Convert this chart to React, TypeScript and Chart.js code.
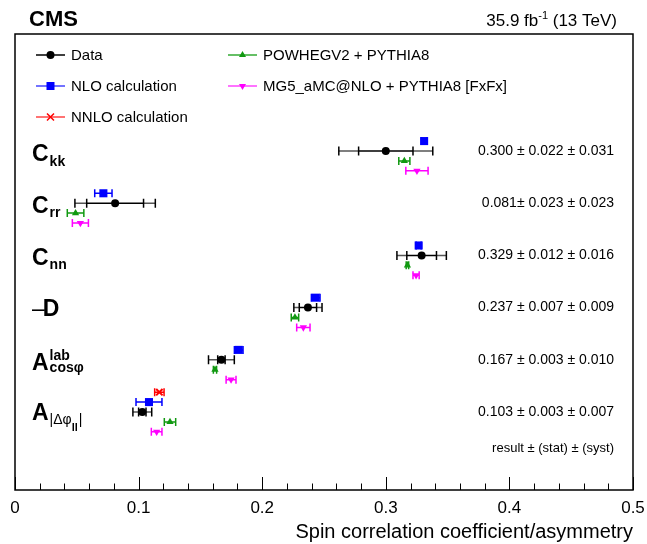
import React, { useEffect, useRef } from 'react';
import { Chart, registerables } from 'chart.js';

Chart.register(...registerables);

const FONT = '"Liberation Sans", Arial, Helvetica, sans-serif';

// ---------------- data ----------------
const rowKeys = ['Ckk', 'Crr', 'Cnn', 'minusD', 'Acos', 'Adphi'];
const dataValue = [0.300, 0.081, 0.329, 0.237, 0.167, 0.103];
const dataStat = [0.022, 0.023, 0.012, 0.007, 0.003, 0.003];
const dataSyst = [0.031, 0.023, 0.016, 0.009, 0.010, 0.007];
const nloValue = [0.331, 0.0715, 0.3266, 0.2433, 0.181, 0.1084];
const nloErr = [0.002, 0.007, 0.002, 0.0035, 0.0035, 0.0105];
const nnloValue: (number | null)[] = [null, null, null, null, null, 0.1168];
const nnloErr: (number | null)[] = [null, null, null, null, null, 0.0038];
const powhegValue = [0.315, 0.049, 0.3175, 0.2265, 0.1618, 0.1254];
const powhegErr = [0.0045, 0.0067, 0.001, 0.003, 0.0013, 0.0046];
const mg5Value = [0.3252, 0.0529, 0.3245, 0.2333, 0.1748, 0.1146];
const mg5Err = [0.009, 0.0065, 0.0025, 0.0054, 0.004, 0.0043];
const resultLabels = [
  '0.300 \u00b1 0.022 \u00b1 0.031',
  '0.081\u00b1 0.023 \u00b1 0.023',
  '0.329 \u00b1 0.012 \u00b1 0.016',
  '0.237 \u00b1 0.007 \u00b1 0.009',
  '0.167 \u00b1 0.003 \u00b1 0.010',
  '0.103 \u00b1 0.003 \u00b1 0.007',
];
const xMin = 0;
const xMax = 0.5;
const xMajorStep = 0.1;
const xMinorStep = 0.02;
const legendNames = {
  data: 'Data',
  nlo: 'NLO calculation',
  nnlo: 'NNLO calculation',
  powheg: 'POWHEGV2 + PYTHIA8',
  mg5: 'MG5_aMC@NLO + PYTHIA8 [FxFx]',
};

// ---------------- styling ----------------
const COL = {
  data: '#000000',
  nlo: '#0000ff',
  nnlo: '#ff0000',
  powheg: '#119911',
  mg5: '#ff00ff',
};
const OFF = { nnlo: -0.38, nlo: -0.19, data: 0, powheg: 0.19, mg5: 0.38 };

const theorySeries = [
  { key: 'nlo', values: nloValue, errs: nloErr, color: COL.nlo, offset: OFF.nlo },
  { key: 'nnlo', values: nnloValue, errs: nnloErr, color: COL.nnlo, offset: OFF.nnlo },
  { key: 'powheg', values: powhegValue, errs: powhegErr, color: COL.powheg, offset: OFF.powheg },
  { key: 'mg5', values: mg5Value, errs: mg5Err, color: COL.mg5, offset: OFF.mg5 },
];

function pts(values: (number | null)[], offset: number) {
  const out: { x: number; y: number }[] = [];
  values.forEach((v, i) => {
    if (v !== null && v !== undefined) out.push({ x: v, y: i + offset });
  });
  return out;
}

type Seg = { t: string; font: string; y: number; dx?: number };
function drawSegs(ctx: CanvasRenderingContext2D, x: number, segs: Seg[]) {
  let cx = x;
  for (const s of segs) {
    ctx.font = s.font;
    cx += s.dx || 0;
    ctx.fillText(s.t, cx, s.y);
    cx += ctx.measureText(s.t).width;
  }
  return cx;
}
function segsWidth(ctx: CanvasRenderingContext2D, segs: Seg[]) {
  let w = 0;
  for (const s of segs) {
    ctx.font = s.font;
    w += (s.dx || 0) + ctx.measureText(s.t).width;
  }
  return w;
}

function drawMarker(ctx: CanvasRenderingContext2D, kind: string, x: number, y: number, color: string) {
  ctx.save();
  ctx.fillStyle = color;
  ctx.strokeStyle = color;
  ctx.beginPath();
  if (kind === 'data') {
    ctx.arc(x, y, 4, 0, Math.PI * 2);
    ctx.fill();
  } else if (kind === 'nlo') {
    ctx.rect(x - 4, y - 4, 8, 8);
    ctx.fill();
  } else if (kind === 'nnlo') {
    ctx.lineWidth = 1.5;
    ctx.moveTo(x - 3.5, y - 3.5);
    ctx.lineTo(x + 3.5, y + 3.5);
    ctx.moveTo(x + 3.5, y - 3.5);
    ctx.lineTo(x - 3.5, y + 3.5);
    ctx.stroke();
  } else if (kind === 'powheg') {
    ctx.moveTo(x, y - 4);
    ctx.lineTo(x + 3.5, y + 2);
    ctx.lineTo(x - 3.5, y + 2);
    ctx.closePath();
    ctx.fill();
  } else if (kind === 'mg5') {
    ctx.moveTo(x, y + 4);
    ctx.lineTo(x + 3.5, y - 2);
    ctx.lineTo(x - 3.5, y - 2);
    ctx.closePath();
    ctx.fill();
  }
  ctx.restore();
}

const decorPlugin = {
  id: 'decor',
  beforeDatasetsDraw(chart: any) {
    const ctx: CanvasRenderingContext2D = chart.ctx;
    const xs = chart.scales.x;
    const ys = chart.scales.y;
    ctx.save();
    ctx.lineWidth = 1.5;
    // theory error bars
    for (const s of theorySeries) {
      ctx.strokeStyle = s.color;
      s.values.forEach((v, i) => {
        const e = s.errs[i];
        if (v === null || v === undefined || e === null || e === undefined) return;
        const y = ys.getPixelForValue(i + s.offset);
        const x1 = xs.getPixelForValue(v - e);
        const x2 = xs.getPixelForValue(v + e);
        ctx.beginPath();
        ctx.moveTo(x1, y);
        ctx.lineTo(x2, y);
        ctx.moveTo(x1, y - 4);
        ctx.lineTo(x1, y + 4);
        ctx.moveTo(x2, y - 4);
        ctx.lineTo(x2, y + 4);
        ctx.stroke();
      });
    }
    // data error bars (stat inner, total outer)
    dataValue.forEach((v, i) => {
      const tot = Math.sqrt(dataStat[i] * dataStat[i] + dataSyst[i] * dataSyst[i]);
      const y = ys.getPixelForValue(i + OFF.data);
      const o1 = xs.getPixelForValue(v - tot);
      const o2 = xs.getPixelForValue(v + tot);
      const s1 = xs.getPixelForValue(v - dataStat[i]);
      const s2 = xs.getPixelForValue(v + dataStat[i]);
      ctx.strokeStyle = '#555555';
      ctx.beginPath();
      ctx.moveTo(o1, y);
      ctx.lineTo(s1, y);
      ctx.moveTo(s2, y);
      ctx.lineTo(o2, y);
      ctx.stroke();
      ctx.strokeStyle = '#000000';
      ctx.beginPath();
      ctx.moveTo(s1, y);
      ctx.lineTo(s2, y);
      for (const xx of [o1, o2, s1, s2]) {
        ctx.moveTo(xx, y - 4.5);
        ctx.lineTo(xx, y + 4.5);
      }
      ctx.stroke();
    });
    ctx.restore();
  },
  afterDraw(chart: any) {
    const ctx: CanvasRenderingContext2D = chart.ctx;
    const xs = chart.scales.x;
    const ys = chart.scales.y;
    const a = chart.chartArea;
    ctx.save();

    // frame
    ctx.strokeStyle = '#000';
    ctx.lineWidth = 1.5;
    ctx.strokeRect(a.left, a.top, a.right - a.left, a.bottom - a.top);

    // x ticks (inward)
    ctx.lineWidth = 1;
    ctx.beginPath();
    const nMinor = Math.round((xMax - xMin) / xMinorStep);
    for (let k = 0; k <= nMinor; k++) {
      const v = xMin + k * xMinorStep;
      const px = Math.round(xs.getPixelForValue(v)) + 0.5;
      const isMajor = Math.abs(v / xMajorStep - Math.round(v / xMajorStep)) < 1e-6;
      const len = isMajor ? 13 : 6.5;
      ctx.moveTo(px, a.bottom);
      ctx.lineTo(px, a.bottom - len);
    }
    ctx.stroke();

    // header
    ctx.fillStyle = '#000';
    ctx.textAlign = 'left';
    ctx.textBaseline = 'alphabetic';
    ctx.font = `bold 22px ${FONT}`;
    ctx.fillText('CMS', 29, 26);
    const lumi: Seg[] = [
      { t: '35.9 fb', font: `17px ${FONT}`, y: 26 },
      { t: '-1', font: `11px ${FONT}`, y: 19 },
      { t: ' (13 TeV)', font: `17px ${FONT}`, y: 26 },
    ];
    const lw = segsWidth(ctx, lumi);
    drawSegs(ctx, 617 - lw, lumi);

    // legend
    const legendItems = [
      { kind: 'data', name: legendNames.data, col: 0, row: 0 },
      { kind: 'nlo', name: legendNames.nlo, col: 0, row: 1 },
      { kind: 'nnlo', name: legendNames.nnlo, col: 0, row: 2 },
      { kind: 'powheg', name: legendNames.powheg, col: 1, row: 0 },
      { kind: 'mg5', name: legendNames.mg5, col: 1, row: 1 },
    ];
    const lineColor: Record<string, string> = {
      data: '#000', nlo: '#4444ff', nnlo: '#ff4444', powheg: '#33aa33', mg5: '#ff44ff',
    };
    ctx.font = `15px ${FONT}`;
    ctx.textBaseline = 'middle';
    for (const it of legendItems) {
      const x0 = a.left + (it.col === 0 ? 21 : 213);
      const y0 = a.top + 21 + it.row * 31;
      ctx.strokeStyle = lineColor[it.kind];
      ctx.lineWidth = 1.5;
      ctx.beginPath();
      ctx.moveTo(x0, y0);
      ctx.lineTo(x0 + 29, y0);
      ctx.stroke();
      drawMarker(ctx, it.kind, x0 + 14.5, y0, (COL as any)[it.kind]);
      ctx.fillStyle = '#000';
      ctx.font = `15px ${FONT}`;
      ctx.fillText(it.name, x0 + 35, y0 + 1);
    }

    // row labels
    ctx.textBaseline = 'alphabetic';
    ctx.fillStyle = '#000';
    const big = `bold 23px ${FONT}`;
    const sub = `bold 14px ${FONT}`;
    const subR = `14px ${FONT}`;
    const lx = 32;
    rowKeys.forEach((key, i) => {
      const y = ys.getPixelForValue(i);
      let segs: Seg[] = [];
      if (key === 'Ckk') segs = [{ t: 'C', font: big, y: y + 10 }, { t: 'kk', font: sub, y: y + 15, dx: 1 }];
      if (key === 'Crr') segs = [{ t: 'C', font: big, y: y + 10 }, { t: 'rr', font: sub, y: y + 14, dx: 1 }];
      if (key === 'Cnn') segs = [{ t: 'C', font: big, y: y + 10 }, { t: 'nn', font: sub, y: y + 14, dx: 1 }];
      if (key === 'minusD') segs = [{ t: '\u2013', font: `23px ${FONT}`, y: y + 8 }, { t: 'D', font: big, y: y + 8, dx: -2 }];
      if (key === 'Acos') {
        drawSegs(ctx, lx, [{ t: 'A', font: big, y: y + 10 }]);
        ctx.font = big;
        const ax = lx + ctx.measureText('A').width + 1;
        drawSegs(ctx, ax, [{ t: 'lab', font: sub, y: y }]);
        drawSegs(ctx, ax, [{ t: 'cos\u03c6', font: sub, y: y + 12 }]);
        return;
      }
      if (key === 'Adphi') segs = [
        { t: 'A', font: big, y: y + 8 },
        { t: '|\u0394\u03c6', font: subR, y: y + 12, dx: 1 },
        { t: 'll', font: `bold 11px ${FONT}`, y: y + 19 },
        { t: '|', font: subR, y: y + 12, dx: 1 },
      ];
      drawSegs(ctx, lx, segs);
    });

    // result texts
    ctx.font = `14px ${FONT}`;
    ctx.textAlign = 'right';
    ctx.textBaseline = 'middle';
    resultLabels.forEach((t, i) => {
      ctx.fillText(t, 614, ys.getPixelForValue(i + OFF.data));
    });
    ctx.font = `13px ${FONT}`;
    ctx.fillText('result \u00b1 (stat) \u00b1 (syst)', 614, a.bottom - 42);

    ctx.restore();
  },
};

export default function App() {
  const ref = useRef<HTMLCanvasElement | null>(null);
  useEffect(() => {
    if (!ref.current) return;
    const chart = new Chart(ref.current, {
      type: 'scatter',
      data: {
        datasets: [
          {
            label: legendNames.data,
            data: pts(dataValue, OFF.data),
            pointStyle: 'circle',
            pointRadius: 4,
            backgroundColor: COL.data,
            borderColor: COL.data,
            borderWidth: 0,
          },
          {
            label: legendNames.nlo,
            data: pts(nloValue, OFF.nlo),
            pointStyle: 'rect',
            pointRadius: 5.7,
            backgroundColor: COL.nlo,
            borderColor: COL.nlo,
            borderWidth: 0,
          },
          {
            label: legendNames.nnlo,
            data: pts(nnloValue, OFF.nnlo),
            pointStyle: 'crossRot',
            pointRadius: 4.5,
            backgroundColor: COL.nnlo,
            borderColor: COL.nnlo,
            borderWidth: 2,
          },
          {
            label: legendNames.powheg,
            data: pts(powhegValue, OFF.powheg),
            pointStyle: 'triangle',
            pointRadius: 4.2,
            backgroundColor: COL.powheg,
            borderColor: COL.powheg,
            borderWidth: 0,
          },
          {
            label: legendNames.mg5,
            data: pts(mg5Value, OFF.mg5),
            pointStyle: 'triangle',
            rotation: 180,
            pointRadius: 4.2,
            backgroundColor: COL.mg5,
            borderColor: COL.mg5,
            borderWidth: 0,
          } as any,
        ],
      },
      options: {
        animation: false,
        responsive: false,
        devicePixelRatio: 1,
        layout: { padding: { left: 15, right: 14, top: 34, bottom: 0 } },
        plugins: { legend: { display: false }, tooltip: { enabled: false }, title: { display: false } },
        scales: {
          x: {
            type: 'linear',
            min: xMin,
            max: xMax,
            ticks: {
              stepSize: xMajorStep,
              color: '#000',
              font: { family: FONT, size: 17 },
              padding: 8,
              maxRotation: 0,
              autoSkip: false,
            },
            grid: { display: false, drawTicks: false },
            border: { display: false },
            title: {
              display: true,
              text: 'Spin correlation coefficient/asymmetry',
              align: 'end',
              color: '#000',
              font: { family: FONT, size: 20 },
              padding: { top: 0, bottom: 0 },
            },
            afterFit: (s: any) => {
              s.height = 54;
              s.paddingLeft = 0;
              s.paddingRight = 0;
            },
          } as any,
          y: {
            type: 'linear',
            display: false,
            reverse: true,
            min: -2.241,
            max: 6.494,
          },
        },
      },
      plugins: [decorPlugin as any],
    });
    return () => chart.destroy();
  }, []);
  return (
    <div style={{ position: 'absolute', left: 0, top: 0, width: 647, height: 544, background: '#fff' }}>
      <canvas ref={ref} width={647} height={544} style={{ width: 647, height: 544, display: 'block' }} />
    </div>
  );
}
